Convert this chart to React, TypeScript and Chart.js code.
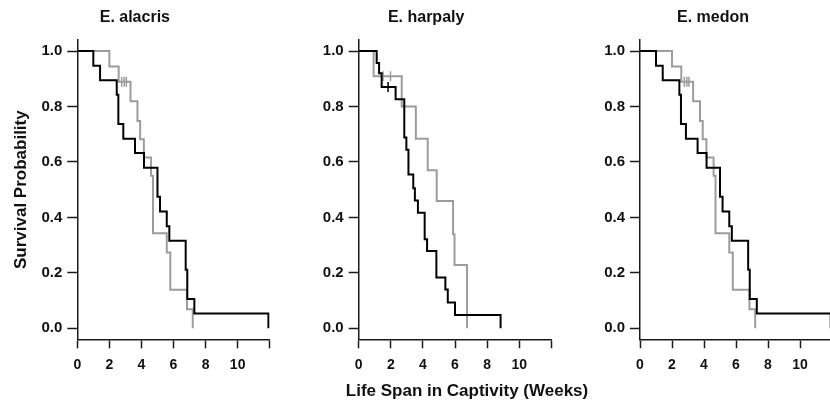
import React, { useEffect, useRef } from 'react';
import { Chart, registerables } from 'chart.js';

Chart.register(...registerables);

const FONT = "'Liberation Sans', Arial, Helvetica, sans-serif";

// ---- text ----
const panelTitles = ['E. alacris', 'E. harpaly', 'E. medon'];
const yAxisTitle = 'Survival Probability';
const xAxisTitle = 'Life Span in Captivity (Weeks)';

// ---- ticks ----
const yTickValues = [0, 0.2, 0.4, 0.6, 0.8, 1.0];
const xTickValues = [0, 2, 4, 6, 8, 10, 12];
const xTickLabels = ['0', '2', '4', '6', '8', '10', ''];

// ---- E. alacris (also shown for E. medon) ----
const alacrisBlackTime = [0, 1.0, 1.42, 2.46, 2.56, 2.87, 3.6, 4.16, 5.0, 5.16, 5.58, 5.74, 6.76, 6.86, 7.3, 11.92];
const alacrisBlackSurv = [1, 0.947, 0.895, 0.842, 0.737, 0.684, 0.632, 0.579, 0.474, 0.421, 0.368, 0.316, 0.211, 0.105, 0.053, 0];
const alacrisGreyTime = [0, 2.0, 2.58, 3.32, 3.75, 3.92, 4.15, 4.6, 4.72, 5.58, 5.8, 6.84, 7.2];
const alacrisGreySurv = [1, 0.944, 0.889, 0.819, 0.748, 0.682, 0.616, 0.55, 0.343, 0.273, 0.139, 0.068, 0];
const alacrisGreyCensorTime = [2.77, 2.93, 3.06];
const alacrisGreyCensorSurv = [0.889, 0.889, 0.889];
const alacrisBlackCensorTime: number[] = [];
const alacrisBlackCensorSurv: number[] = [];

// ---- E. harpaly ----
const harpalyBlackTime = [0, 1.12, 1.27, 1.43, 2.3, 2.84, 2.97, 3.1, 3.4, 3.5, 3.69, 4.11, 4.26, 4.84, 5.4, 5.55, 6.0, 8.84];
const harpalyBlackSurv = [1, 0.957, 0.92, 0.87, 0.826, 0.688, 0.644, 0.555, 0.505, 0.461, 0.417, 0.321, 0.279, 0.183, 0.14, 0.093, 0.048, 0];
const harpalyGreyTime = [0, 0.93, 2.68, 3.56, 4.3, 4.86, 5.88, 5.97, 6.75];
const harpalyGreySurv = [1, 0.909, 0.8, 0.684, 0.57, 0.459, 0.339, 0.228, 0];
const harpalyGreyCensorTime = [1.52, 1.98];
const harpalyGreyCensorSurv = [0.909, 0.909];
const harpalyBlackCensorTime = [1.83];
const harpalyBlackCensorSurv = [0.87];

const BLACK = '#000000';
const GREY = '#9c9c9c';
const AXIS = '#1a1a1a';
const TEXT = '#111111';

const CANVAS_H = 407;
const AREA_BOTTOM = 339.3;

type Series = { bt: number[]; bs: number[]; gt: number[]; gs: number[]; gct: number[]; gcs: number[]; bct: number[]; bcs: number[] };

const alacris: Series = {
  bt: alacrisBlackTime, bs: alacrisBlackSurv, gt: alacrisGreyTime, gs: alacrisGreySurv,
  gct: alacrisGreyCensorTime, gcs: alacrisGreyCensorSurv, bct: alacrisBlackCensorTime, bcs: alacrisBlackCensorSurv,
};
const harpaly: Series = {
  bt: harpalyBlackTime, bs: harpalyBlackSurv, gt: harpalyGreyTime, gs: harpalyGreySurv,
  gct: harpalyGreyCensorTime, gcs: harpalyGreyCensorSurv, bct: harpalyBlackCensorTime, bcs: harpalyBlackCensorSurv,
};

type PanelSpec = {
  title: string; left: number; width: number; areaLeft: number; areaRight: number;
  series: Series; yTitle: boolean; xTitle: boolean;
};

const panels: PanelSpec[] = [
  { title: panelTitles[0], left: 0, width: 338, areaLeft: 77.3, areaRight: 269.7, series: alacris, yTitle: true, xTitle: false },
  { title: panelTitles[1], left: 301, width: 294, areaLeft: 57.7, areaRight: 250.3, series: harpaly, yTitle: false, xTitle: true },
  { title: panelTitles[2], left: 594, width: 272, areaLeft: 46, areaRight: 238, series: alacris, yTitle: false, xTitle: false },
];

const pts = (xs: number[], ys: number[]) => xs.map((x, i) => ({ x, y: ys[i] }));

const xLabelPlugin = {
  id: 'xLabelText',
  afterDraw(chart: any) {
    const { ctx, chartArea } = chart;
    ctx.save();
    ctx.font = `bold 17px ${FONT}`;
    ctx.fillStyle = TEXT;
    ctx.textAlign = 'center';
    ctx.textBaseline = 'alphabetic';
    ctx.fillText(xAxisTitle, (chartArea.left + chartArea.right) / 2 + 12, chartArea.bottom + 56.5);
    ctx.restore();
  },
};

function Panel({ spec }: { spec: PanelSpec }) {
  const ref = useRef<HTMLCanvasElement | null>(null);
  useEffect(() => {
    if (!ref.current) return;
    const s = spec.series;
    const lineDs = (data: any, color: string) => ({
      data, stepped: 'before' as const, borderColor: color, borderWidth: 2, pointRadius: 0,
      pointHoverRadius: 0, fill: false, tension: 0, borderJoinStyle: 'miter' as const, borderCapStyle: 'butt' as const,
    });
    const censorDs = (data: any, color: string) => ({
      data, showLine: false, pointStyle: 'line' as const, pointRotation: 90, pointRadius: 5,
      pointHoverRadius: 5, pointBorderWidth: 1.5, pointBorderColor: color, borderColor: color,
      backgroundColor: color,
    });
    const chart = new Chart(ref.current, {
      type: 'line',
      data: {
        datasets: [
          censorDs(pts(s.bct, s.bcs), BLACK),
          lineDs(pts(s.bt, s.bs), BLACK),
          censorDs(pts(s.gct, s.gcs), GREY),
          lineDs(pts(s.gt, s.gs), GREY),
        ] as any,
      },
      options: {
        responsive: false,
        animation: false,
        devicePixelRatio: 1,
        events: [],
        layout: { padding: { left: 0, right: spec.width - spec.areaRight, top: 0, bottom: 0 } },
        plugins: {
          legend: { display: false },
          tooltip: { enabled: false },
          title: {
            display: true,
            text: spec.title,
            color: TEXT,
            font: { family: FONT, size: 16, weight: 'bold' },
            padding: { top: 8, bottom: 12.8 },
          },
        },
        scales: {
          x: {
            type: 'linear',
            min: 0,
            max: 12,
            afterBuildTicks: (sc: any) => { sc.ticks = xTickValues.map((v) => ({ value: v })); },
            afterFit: (sc: any) => { sc.height = CANVAS_H - AREA_BOTTOM; },
            ticks: {
              autoSkip: false,
              maxRotation: 0,
              color: TEXT,
              padding: 8,
              font: { family: FONT, size: 14, weight: 'bold' },
              callback: (_v: any, i: number) => xTickLabels[i],
            },
            grid: { display: true, drawOnChartArea: false, drawTicks: true, tickLength: 9, tickWidth: 1.5, tickColor: AXIS, color: AXIS },
            border: { display: true, color: AXIS, width: 1.5 },
          },
          y: {
            type: 'linear',
            min: -0.04,
            max: 1.04,
            afterBuildTicks: (sc: any) => { sc.ticks = yTickValues.map((v) => ({ value: v })); },
            afterFit: (sc: any) => { sc.width = spec.areaLeft; },
            ticks: {
              color: TEXT,
              padding: 5,
              font: { family: FONT, size: 15, weight: 'bold' },
              callback: (v: any) => Number(v).toFixed(1),
            },
            grid: { display: true, drawOnChartArea: false, drawTicks: true, tickLength: 10, tickWidth: 1.5, tickColor: AXIS, color: AXIS },
            border: { display: true, color: AXIS, width: 1.5 },
            title: {
              display: spec.yTitle,
              text: yAxisTitle,
              color: TEXT,
              font: { family: FONT, size: 17, weight: 'bold' },
              padding: { top: 11, bottom: 0 },
            },
          },
        },
      } as any,
      plugins: spec.xTitle ? [xLabelPlugin] : [],
    });
    return () => chart.destroy();
  }, [spec]);
  return (
    <canvas
      ref={ref}
      width={spec.width}
      height={CANVAS_H}
      style={{ position: 'absolute', left: spec.left, top: 0, width: spec.width, height: CANVAS_H }}
    />
  );
}

export default function App() {
  return (
    <div style={{ position: 'absolute', left: 0, top: 0, width: 830, height: CANVAS_H, overflow: 'hidden', background: '#ffffff' }}>
      {panels.map((p) => (
        <Panel key={p.title} spec={p} />
      ))}
    </div>
  );
}
